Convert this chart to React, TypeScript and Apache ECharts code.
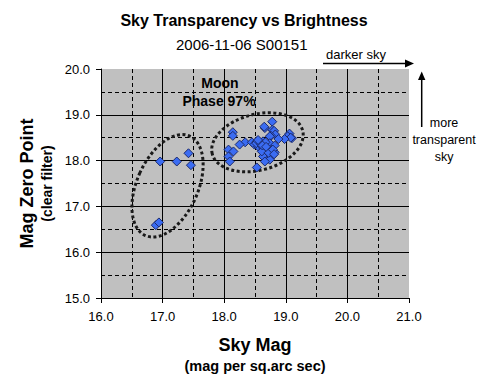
import React, { useEffect, useRef } from "react";
import * as echarts from "echarts";

// Sky brightness (mag per sq.arc sec) vs zero point (clear filter)
const skyMag: number[] = [
  16.96, 17.23, 17.42, 17.46, 16.89, 16.94,
  18.78, 18.66, 18.65, 18.78, 18.81, 18.14, 18.14, 18.83, 18.76, 19.06,
  19.03, 19.10, 19.08, 18.98, 18.88, 18.74, 18.34, 18.25, 18.45, 18.53,
  18.58, 18.63, 18.69, 18.74, 18.82, 18.49, 18.55, 18.63, 18.77, 18.82,
  18.07, 18.15, 18.07, 18.09, 18.66, 18.63, 18.77, 18.73, 18.74, 18.66,
  18.53, 18.61, 18.72, 18.79, 18.81, 18.52, 18.57, 18.60, 18.67, 18.55,
  18.62, 18.68,
];
const zeroPoint: number[] = [
  17.98, 17.98, 18.16, 17.90, 16.59, 16.65,
  18.85, 18.71, 18.74, 18.67, 18.65, 18.62, 18.54, 18.57, 18.54, 18.59,
  18.53, 18.49, 18.50, 18.47, 18.47, 18.53, 18.40, 18.35, 18.40, 18.42,
  18.38, 18.42, 18.35, 18.38, 18.33, 18.35, 18.31, 18.28, 18.24, 18.18,
  18.24, 18.20, 18.09, 17.98, 18.13, 18.09, 18.09, 18.04, 18.02, 17.98,
  17.85, 18.20, 18.17, 18.24, 18.14, 18.38, 18.40, 18.36, 18.40, 18.45,
  18.33, 18.30,
];

const xTicks = ["16.0", "17.0", "18.0", "19.0", "20.0", "21.0"];
const yTicks = ["15.0", "16.0", "17.0", "18.0", "19.0", "20.0"];

// grouping ellipses (centres in data units)
const ellipseCentres: number[][] = [
  [17.08, 17.45],
  [18.54, 18.4],
];
const ellipseShapes = [
  { rx: 30.5, ry: 54.4, rot: -24 },
  { rx: 46.7, ry: 28, rot: 14.5 },
];

const FONT = "'Liberation Sans', Arial, sans-serif";

export default function App() {
  const ref = useRef<HTMLDivElement>(null);
  useEffect(() => {
    if (!ref.current) return;
    const chart = echarts.init(ref.current, undefined, { renderer: "svg" });
    const points = skyMag.map((x, i) => [x, zeroPoint[i]]);
    chart.setOption({
      animation: false,
      backgroundColor: "#ffffff",
      textStyle: { fontFamily: FONT },
      title: [
        {
          text: "Sky Transparency vs Brightness",
          left: "center",
          top: 7,
          textStyle: { fontFamily: FONT, fontSize: 16, fontWeight: "bold", color: "#000" },
        },
        {
          text: "2006-11-06 S00151",
          left: 171,
          top: 32,
          textStyle: { fontFamily: FONT, fontSize: 15, fontWeight: "normal", color: "#000" },
        },
      ],
      grid: {
        left: 101,
        top: 69,
        right: 79,
        bottom: 92,
        show: true,
        backgroundColor: "#c0c0c0",
        borderWidth: 0,
      },
      xAxis: {
        type: "value",
        min: 16,
        max: 21,
        interval: 1,
        name: "{a|Sky Mag}\n{b|(mag per sq.arc sec)}",
        nameLocation: "middle",
        nameGap: 37,
        nameTextStyle: {
          rich: {
            a: { fontFamily: FONT, fontSize: 18, fontWeight: "bold", color: "#000", lineHeight: 20 },
            b: { fontFamily: FONT, fontSize: 14.5, fontWeight: "bold", color: "#000", lineHeight: 22 },
          },
        },
        axisLine: { show: true, lineStyle: { color: "#000", width: 1 } },
        axisTick: { show: true, length: 5, lineStyle: { color: "#000" } },
        axisLabel: {
          margin: 12,
          color: "#000",
          fontSize: 13,
          fontFamily: FONT,
          formatter: (v: number) => xTicks[Math.round(v - 16)] ?? "",
        },
        splitLine: {
          show: true,
          lineStyle: { color: ["#000", "#000", "#000", "#000", "#000", "transparent"], width: 1 },
        },
        minorTick: { show: false, splitNumber: 2 },
        minorSplitLine: { show: true, lineStyle: { color: "#000", type: [4, 3], width: 1 } },
      },
      yAxis: {
        type: "value",
        min: 15,
        max: 20,
        interval: 1,
        name: "{a|Mag Zero Point}\n{b|(clear filter)}",
        nameLocation: "middle",
        nameRotate: 90,
        nameGap: 44,
        nameTextStyle: {
          rich: {
            a: { fontFamily: FONT, fontSize: 18, fontWeight: "bold", color: "#000", lineHeight: 20 },
            b: { fontFamily: FONT, fontSize: 14, fontWeight: "bold", color: "#000", lineHeight: 20 },
          },
        },
        axisLine: { show: true, lineStyle: { color: "#000", width: 1 } },
        axisTick: { show: true, length: 5, lineStyle: { color: "#000" } },
        axisLabel: {
          margin: 11,
          color: "#000",
          fontSize: 13,
          fontFamily: FONT,
          formatter: (v: number) => yTicks[Math.round(v - 15)] ?? "",
        },
        splitLine: {
          show: true,
          lineStyle: { color: ["#000", "#000", "#000", "#000", "#000", "transparent"], width: 1 },
        },
        minorTick: { show: false, splitNumber: 2 },
        minorSplitLine: { show: true, lineStyle: { color: "#000", type: [4, 3], width: 1 } },
      },
      series: [
        {
          type: "custom",
          data: ellipseCentres,
          z: 1,
          silent: true,
          renderItem: (params: any, api: any) => {
            const c = api.coord([api.value(0), api.value(1)]);
            const e = ellipseShapes[params.dataIndex];
            return {
              type: "ellipse",
              x: c[0],
              y: c[1],
              rotation: (e.rot * Math.PI) / 180,
              shape: { cx: 0, cy: 0, rx: e.rx, ry: e.ry },
              style: { fill: "none", stroke: "#1a1a1a", lineWidth: 3, lineDash: [3, 2.5] },
            };
          },
        },
        {
          type: "scatter",
          data: points,
          z: 3,
          symbol: "diamond",
          symbolSize: 9,
          itemStyle: { color: "#3b6cf2", borderColor: "#1c2a6b", borderWidth: 1, opacity: 1 },
        },
      ],
      graphic: [
        {
          type: "text",
          x: 220,
          y: 83,
          style: { text: "Moon", font: `bold 14px ${FONT}`, fill: "#000", textAlign: "center", textVerticalAlign: "middle" },
        },
        {
          type: "text",
          x: 219,
          y: 101,
          style: { text: "Phase 97%", font: `bold 14px ${FONT}`, fill: "#000", textAlign: "center", textVerticalAlign: "middle" },
        },
        {
          type: "text",
          x: 326,
          y: 54,
          style: { text: "darker sky", font: `13px ${FONT}`, fill: "#000", textAlign: "left", textVerticalAlign: "middle" },
        },
        { type: "line", shape: { x1: 323, y1: 63.5, x2: 407, y2: 63.5 }, style: { stroke: "#000", lineWidth: 1.5 } },
        { type: "polygon", shape: { points: [[405, 59.5], [414, 63.5], [405, 67.5]] }, style: { fill: "#000" } },
        { type: "line", shape: { x1: 421.7, y1: 127, x2: 421.7, y2: 78 }, style: { stroke: "#000", lineWidth: 1.5 } },
        { type: "polygon", shape: { points: [[418, 80], [421.7, 71.5], [425.4, 80]] }, style: { fill: "#000" } },
        {
          type: "text",
          x: 444,
          y: 123,
          style: { text: "more", font: `12.5px ${FONT}`, fill: "#000", textAlign: "center", textVerticalAlign: "middle" },
        },
        {
          type: "text",
          x: 444,
          y: 140,
          style: { text: "transparent", font: `12.5px ${FONT}`, fill: "#000", textAlign: "center", textVerticalAlign: "middle" },
        },
        {
          type: "text",
          x: 444,
          y: 157,
          style: { text: "sky", font: `12.5px ${FONT}`, fill: "#000", textAlign: "center", textVerticalAlign: "middle" },
        },
      ],
    });
    return () => chart.dispose();
  }, []);
  return (
    <div
      ref={ref}
      style={{ position: "absolute", left: 0, top: 0, width: 488, height: 390, background: "#fff" }}
    />
  );
}
